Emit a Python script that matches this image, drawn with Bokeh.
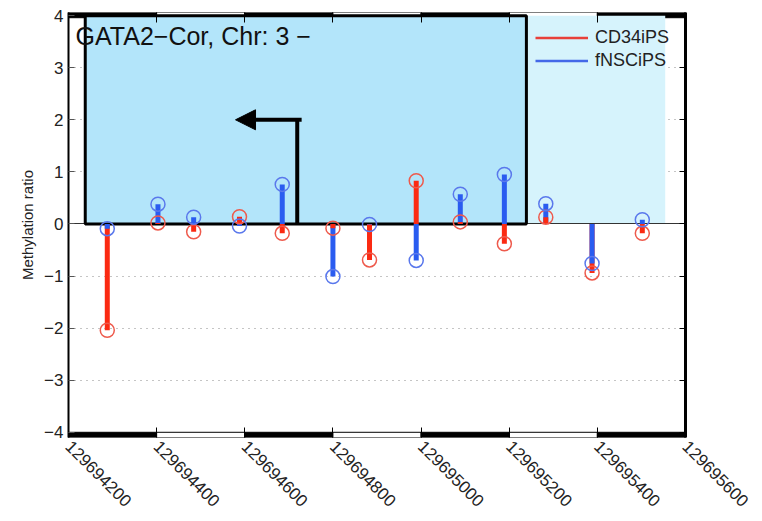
import math

from bokeh.embed import file_html
from bokeh.models import (Arrow, ColumnDataSource, FixedTicker, Label, Legend,
                          LegendItem, LinearAxis, NormalHead, Range1d)
from bokeh.plotting import figure
from bokeh.resources import INLINE

# CpG positions on chromosome 3 (bp) and the methylation ratio of each line
positions = [129694288, 129694403, 129694484, 129694588, 129694685, 129694800,
             129694883, 129694989, 129695089, 129695189, 129695283, 129695388,
             129695502]
cd34ips = [-2.04, 0.02, -0.15, 0.14, -0.18, -0.08, -0.69, 0.83, 0.04, -0.38,
           0.13, -0.94, -0.18]
fnscips = [-0.09, 0.38, 0.13, -0.04, 0.76, -1.01, -0.01, -0.70, 0.57, 0.95,
           0.39, -0.76, 0.08]

# axis ticks
x_ticks = [129694200, 129694400, 129694600, 129694800, 129695000, 129695200,
           129695400, 129695600]
x_tick_labels = [str(t) for t in x_ticks]
y_ticks = [-4, -3, -2, -1, 0, 1, 2, 3, 4]
y_tick_labels = [str(t).replace("-", "\u2212") for t in y_ticks]

# annotated regions: CpG island and its shore, plus the TSS arrow
island = (129694238, 129695239)
shore = (129695239, 129695554)
region_top = 4
tss_x = 129694719
tss_arrow_end = 129694579
tss_arrow_height = 2

title = "GATA2\u2212Cor, Chr: 3 \u2212"

RED = "#fb2a12"
BLUE = "#2a5cf0"
RED_RING = "#ee5a4c"
BLUE_RING = "#5a78ec"
FONT = "Liberation Sans"

p = figure(width=762, height=521, output_backend="svg", toolbar_location=None,
           x_range=Range1d(x_ticks[0], x_ticks[-1]), y_range=Range1d(-4.1, 4.06),
           min_border_left=68, min_border_right=77, min_border_top=12,
           min_border_bottom=84)
p.outline_line_color = None
p.background_fill_color = "white"
p.border_fill_color = "white"

# dotted horizontal grid
p.xgrid.grid_line_color = None
p.ygrid.ticker = FixedTicker(ticks=[t for t in y_ticks if t not in (0, -4, 4)])
p.ygrid.grid_line_color = "#8a8a8a"
p.ygrid.grid_line_dash = "1 5"
p.ygrid.grid_line_width = 1

# bottom axis
xa = p.xaxis[0]
xa.ticker = FixedTicker(ticks=x_ticks)
xa.major_label_overrides = dict(zip(x_ticks, x_tick_labels))
xa.major_label_orientation = -math.pi / 4
xa.major_label_text_font = FONT
xa.major_label_text_font_size = "17px"
xa.major_label_text_color = "#222222"
xa.major_label_standoff = 6
xa.axis_line_color = None
xa.major_tick_in = 10
xa.major_tick_out = 0
xa.major_tick_line_color = "black"
xa.minor_tick_line_color = None

# left axis
ya = p.yaxis[0]
ya.ticker = FixedTicker(ticks=y_ticks)
ya.major_label_overrides = dict(zip(y_ticks, y_tick_labels))
ya.major_label_text_font = FONT
ya.major_label_text_font_size = "17px"
ya.major_label_text_color = "#222222"
ya.major_label_standoff = 5
ya.axis_label = "Methylation ratio"
ya.axis_label_text_font = FONT
ya.axis_label_text_font_style = "normal"
ya.axis_label_text_font_size = "15px"
ya.axis_label_text_color = "#222222"
ya.axis_label_standoff = 5
ya.axis_line_color = "black"
ya.axis_line_width = 2
ya.major_tick_in = 6
ya.major_tick_out = 0
ya.major_tick_line_color = "#555555"
ya.minor_tick_line_color = None

# mirrored axes on the right and top carry tick marks only
ra = LinearAxis(ticker=FixedTicker(ticks=y_ticks),
                major_label_overrides={t: "" for t in y_ticks},
                major_label_text_color=None,
                axis_line_color="black", axis_line_width=3, major_tick_in=6,
                major_tick_out=0, minor_tick_line_color=None, major_label_standoff=0)
p.add_layout(ra, "right")
ta = LinearAxis(ticker=FixedTicker(ticks=x_ticks),
                major_label_overrides={t: "" for t in x_ticks},
                major_label_text_color=None,
                axis_line_color=None, major_tick_in=10, major_tick_out=0,
                minor_tick_line_color=None, major_label_standoff=0)
p.add_layout(ta, "above")

# alternating black/white scale bands along the top and bottom edges
band_left = x_ticks[:-1]
band_right = x_ticks[1:]
band_fill = ["black" if i % 2 == 0 else "white" for i in range(len(band_left))]
p.quad(left=band_left, right=band_right, bottom=-4.1, top=-4.0,
       fill_color=band_fill, line_color="black", line_width=1)
p.quad(left=band_left, right=band_right, bottom=3.96, top=4.06,
       fill_color=band_fill, line_color="black", line_width=1)

# shore and island regions
p.quad(left=shore[0], right=shore[1], bottom=0, top=region_top,
       fill_color="#d6f3fc", line_color=None)
p.hspan(y=[0], line_color="#333333", line_width=1)
p.quad(left=island[0], right=island[1], bottom=0, top=region_top,
       fill_color="#b3e5fa", line_color="black", line_width=3)

# TSS arrow
p.line(x=[tss_x, tss_x], y=[0, tss_arrow_height], line_color="black", line_width=4)
p.add_layout(Arrow(end=NormalHead(size=20, fill_color="black", line_color="black"),
                   x_start=tss_x + 10, y_start=tss_arrow_height,
                   x_end=tss_arrow_end, y_end=tss_arrow_height,
                   line_color="black", line_width=4))

# stems: at each position the longer stem is drawn first
sx, sy, sc = [], [], []
for x, r, b in zip(positions, cd34ips, fnscips):
    pair = [(r, RED), (b, BLUE)]
    pair.sort(key=lambda v: -abs(v[0]))
    for val, col in pair:
        sx.append(x)
        sy.append(val)
        sc.append(col)
stems = ColumnDataSource(dict(x=sx, y=sy, c=sc))
p.segment(x0="x", y0=0, x1="x", y1="y", line_color="c", line_width=5,
          line_cap="butt", source=stems)

p.scatter(x=positions, y=cd34ips, size=14, marker="circle", fill_color=None,
          line_color=RED_RING, line_width=1.5)
p.scatter(x=positions, y=fnscips, size=14, marker="circle", fill_color=None,
          line_color=BLUE_RING, line_width=1.5)

# legend keys (lines with no visible points)
nan = float("nan")
r_red = p.line(x=[nan, nan], y=[nan, nan], line_color="#e8403a", line_width=2.5)
r_blue = p.line(x=[nan, nan], y=[nan, nan], line_color="#4468e8", line_width=2.5)
legend = Legend(items=[LegendItem(label="CD34iPS", renderers=[r_red]),
                       LegendItem(label="fNSCiPS", renderers=[r_blue])],
                location=(467, 365), padding=0, margin=0, spacing=0,
                glyph_width=53, glyph_height=23, label_height=23,
                label_standoff=7, label_text_font=FONT,
                label_text_font_size="18px", label_text_color="#222222",
                background_fill_alpha=0, border_line_alpha=0)
p.add_layout(legend)

p.add_layout(Label(x=129694216, y=3.61, text=title, text_font=FONT,
                   text_font_size="25px", text_color="#111111",
                   text_baseline="middle", text_align="left"))

open("out.html", "w").write(file_html(p, INLINE))
